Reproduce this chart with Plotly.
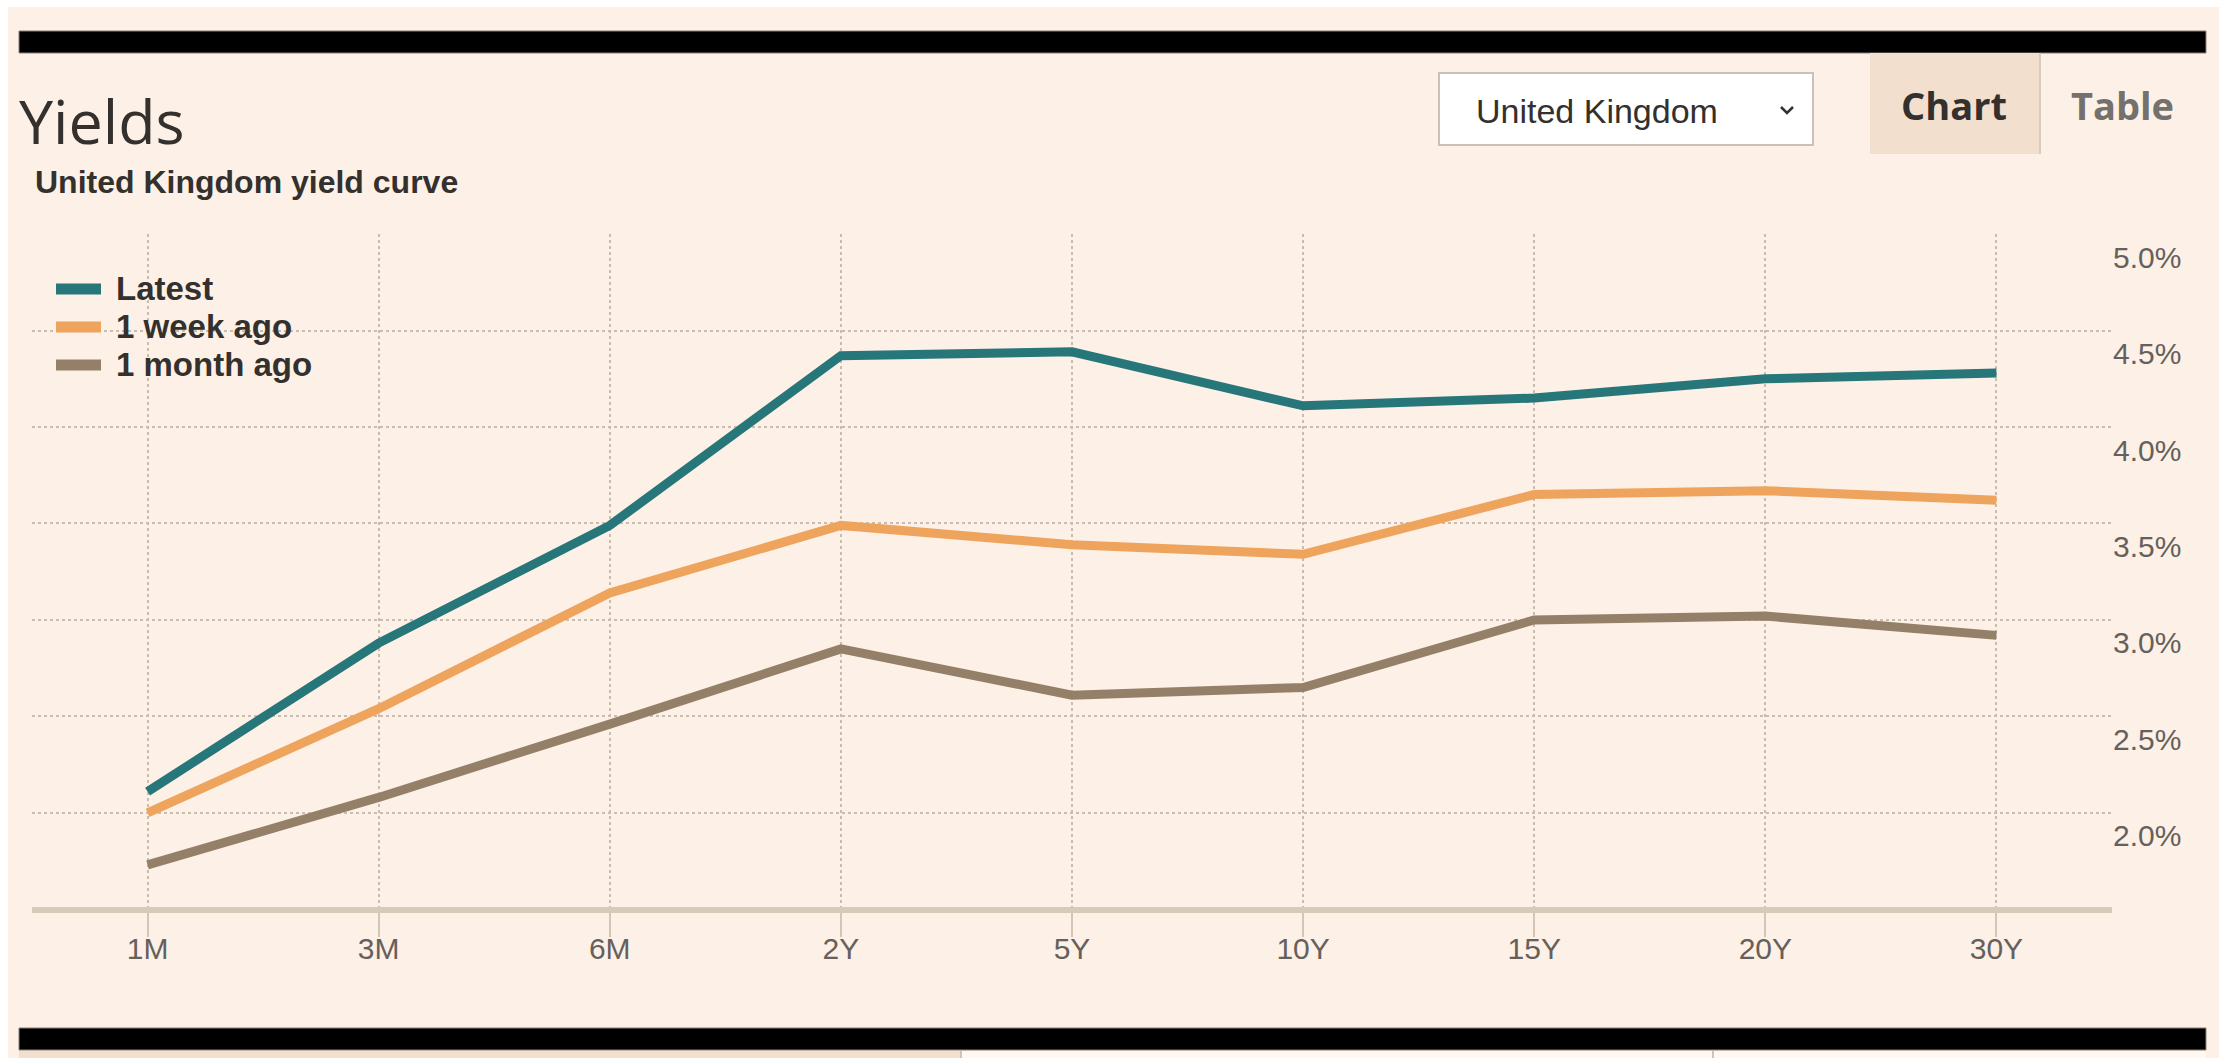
import plotly.graph_objects as go

# ---------------- data ----------------
maturities = ["1M", "3M", "6M", "2Y", "5Y", "10Y", "15Y", "20Y", "30Y"]
latest = [2.11, 2.88, 3.49, 4.37, 4.39, 4.11, 4.15, 4.25, 4.28]
week_ago = [2.00, 2.54, 3.14, 3.49, 3.39, 3.34, 3.65, 3.67, 3.62]
month_ago = [1.73, 2.08, 2.46, 2.85, 2.61, 2.65, 3.00, 3.02, 2.92]
series_names = ["Latest", "1 week ago", "1 month ago"]
y_ticks = [2.0, 2.5, 3.0, 3.5, 4.0, 4.5, 5.0]
y_tick_labels = [f"{v:.1f}%" for v in y_ticks]

# ---------------- geometry ----------------
W, H = 2226, 1058
ML, MR, MT, MB = 32, 114, 234, 151
PW = W - ML - MR
PH = H - MT - MB


def fx(px):
    return (px - ML) / PW


def fy(py):
    return (H - MB - py) / PH


BG = "#fdf0e6"
TAB = "#f2dfce"
DARK = "#33302e"
GREY = "#66605c"
GRID = "#c9bdb0"
colors = ["#26767a", "#eea45c", "#948069"]
SANS = "Liberation Sans, Arial, sans-serif"
OPEN = "Open Sans, sans-serif"

fig = go.Figure()
for name, vals, c in zip(series_names, [latest, week_ago, month_ago], colors):
    fig.add_trace(go.Scatter(
        x=maturities, y=vals, name=name, mode="lines",
        line=dict(color=c, width=9),
        hoverinfo="skip", showlegend=False,
    ))

shapes = []
# white screenshot margins
shapes.append(dict(type="rect", xref="paper", yref="paper", x0=fx(0), x1=fx(W), y0=fy(0), y1=fy(7),
                   fillcolor="white", line=dict(width=0), layer="above"))
shapes.append(dict(type="rect", xref="paper", yref="paper", x0=fx(0), x1=fx(8), y0=fy(0), y1=fy(H),
                   fillcolor="white", line=dict(width=0), layer="above"))
shapes.append(dict(type="rect", xref="paper", yref="paper", x0=fx(2219), x1=fx(W), y0=fy(0), y1=fy(H),
                   fillcolor="white", line=dict(width=0), layer="above"))
# black bars
shapes.append(dict(type="rect", xref="paper", yref="paper", x0=fx(19), x1=fx(2206), y0=fy(31), y1=fy(53),
                   fillcolor="black", line=dict(width=1, color="#8a8077"), layer="above"))
shapes.append(dict(type="rect", xref="paper", yref="paper", x0=fx(19), x1=fx(2206), y0=fy(1028), y1=fy(1050),
                   fillcolor="black", line=dict(width=1, color="#8a8077"), layer="above"))
# bottom tab strip
shapes.append(dict(type="rect", xref="paper", yref="paper", x0=fx(19), x1=fx(961), y0=fy(1051), y1=fy(H),
                   fillcolor=TAB, line=dict(width=0), layer="above"))
shapes.append(dict(type="rect", xref="paper", yref="paper", x0=fx(961), x1=fx(2206), y0=fy(1051), y1=fy(H),
                   fillcolor="#fff7f1", line=dict(width=0), layer="above"))
for xv in (961, 1713):
    shapes.append(dict(type="line", xref="paper", yref="paper", x0=fx(xv), x1=fx(xv), y0=fy(1051), y1=fy(H),
                       line=dict(width=2, color="#cfc4ba"), layer="above"))
# dropdown box
shapes.append(dict(type="rect", xref="paper", yref="paper", x0=fx(1439), x1=fx(1813), y0=fy(73), y1=fy(145),
                   fillcolor="white", line=dict(width=2, color="#c9c2bb"), layer="above"))
# chevron
shapes.append(dict(type="path", xref="paper", yref="paper",
                   path=f"M {fx(1781)} {fy(107)} L {fx(1787)} {fy(113)} L {fx(1793)} {fy(107)}",
                   line=dict(width=2.5, color=DARK), layer="above"))
# chart tab
shapes.append(dict(type="rect", xref="paper", yref="paper", x0=fx(1870), x1=fx(2040), y0=fy(53), y1=fy(154),
                   fillcolor=TAB, line=dict(width=0), layer="above"))
shapes.append(dict(type="line", xref="paper", yref="paper", x0=fx(2040), x1=fx(2040), y0=fy(53), y1=fy(154),
                   line=dict(width=2, color="#dccbbb"), layer="above"))
# legend background (masks gridlines)
shapes.append(dict(type="rect", xref="paper", yref="paper", x0=fx(33), x1=fx(341), y0=fy(248), y1=fy(397),
                   fillcolor=BG, line=dict(width=0), layer="between"))

annotations = [
    dict(text="Yields", x=fx(17), y=fy(121), xref="paper", yref="paper", xanchor="left", yanchor="middle",
         showarrow=False, font=dict(family=OPEN, size=61, color=DARK)),
    dict(text="United Kingdom yield curve", x=fx(33), y=fy(182), xref="paper", yref="paper",
         xanchor="left", yanchor="middle", showarrow=False,
         font=dict(family=SANS, size=32, color=DARK, weight="bold")),
    dict(text="United Kingdom", x=fx(1474), y=fy(111), xref="paper", yref="paper",
         xanchor="left", yanchor="middle", showarrow=False,
         font=dict(family=SANS, size=34, color=DARK)),
    dict(text="Chart", x=fx(1954), y=fy(105), xref="paper", yref="paper",
         xanchor="center", yanchor="middle", showarrow=False,
         font=dict(family=OPEN, size=38, color=DARK, weight="bold")),
    dict(text="Table", x=fx(2122), y=fy(105), xref="paper", yref="paper",
         xanchor="center", yanchor="middle", showarrow=False,
         font=dict(family=OPEN, size=38, color="#74706c", weight="bold")),
]

# legend (swatch + label per series)
legend_rows = [289, 327, 365]
for name, c, ry in zip(series_names, colors, legend_rows):
    shapes.append(dict(type="line", xref="paper", yref="paper", x0=fx(56), x1=fx(101), y0=fy(ry), y1=fy(ry),
                       line=dict(width=11, color=c), layer="above"))
    annotations.append(dict(text=name, x=fx(114), y=fy(ry - 1), xref="paper", yref="paper",
                            xanchor="left", yanchor="middle", showarrow=False,
                            font=dict(family=SANS, size=33, color=DARK, weight="bold")))

fig.update_layout(
    width=W, height=H,
    margin=dict(l=ML, r=MR, t=MT, b=MB, pad=0),
    paper_bgcolor=BG, plot_bgcolor=BG,
    showlegend=False,
    shapes=shapes,
    annotations=annotations,
    xaxis=dict(
        type="category", range=[-0.5, 8.5],
        showgrid=True, gridcolor=GRID, gridwidth=2, griddash="dot",
        showline=True, linecolor="#d8cab8", linewidth=6,
        ticks="outside", ticklen=24, tickwidth=2, tickcolor="#d3c6b6",
        tickfont=dict(family=SANS, size=30, color=GREY),
        ticklabelstandoff=-14,
        zeroline=False, fixedrange=True,
    ),
    yaxis=dict(
        side="right", range=[1.512, 5.0005],
        tickvals=y_ticks, ticktext=y_tick_labels,
        showgrid=True, gridcolor=GRID, gridwidth=2, griddash="dot",
        showline=False, ticks="", zeroline=False,
        tickfont=dict(family=SANS, size=30, color=GREY),
        ticklabelshift=23, fixedrange=True,
    ),
)

fig.write_html("out.html")
